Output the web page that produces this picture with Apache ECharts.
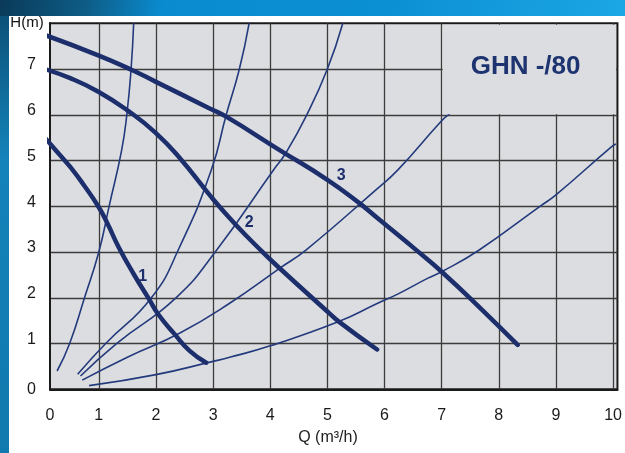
<!DOCTYPE html>
<html><head><meta charset="utf-8">
<script src="https://cdn.jsdelivr.net/npm/echarts@6/dist/echarts.min.js"></script>
<style>
html,body{margin:0;padding:0;}
#wrap{position:relative;width:625px;height:453px;overflow:hidden;background:linear-gradient(180deg,#0b4c72 0%,#1483b9 35%,#1079ae 100%);}
#band{position:absolute;left:0;top:0;width:625px;height:16px;background:linear-gradient(100deg,#0a3a58 0%,#0e5d87 14%,#0a8bcf 26%,#0c90d4 62%,#1ba6e5 100%);}
#panel{position:absolute;left:9px;top:16px;right:0;bottom:0;background:#fff;}
#chart{position:absolute;left:0;top:0;width:625px;height:453px;}
</style></head>
<body><div id="wrap"><div id="band"></div><div id="panel"></div><div id="chart"></div></div>
<script>
// Pump curves (thick) : Q (m3/h), H (m)
const pump1 = [[0,5.58],[0.25,5.22],[0.5,4.86],[0.74,4.46],[1.0,3.98],[1.16,3.6],[1.35,3.1],[1.61,2.52],[1.88,1.97],[2.04,1.64],[2.33,1.2],[2.59,0.84],[2.88,0.58]];
const pump2 = [[0,7.02],[0.5,6.8],[1.0,6.5],[1.52,6.08],[2.0,5.6],[2.42,5.05],[2.97,4.2],[3.38,3.62],[3.85,3.02],[4.17,2.64],[5.0,1.7],[5.2,1.48],[5.87,0.87]];
const pump3 = [[0,7.77],[0.99,7.3],[1.58,6.98],[2.0,6.72],[2.94,6.14],[3.23,5.96],[4.15,5.24],[5.0,4.58],[5.56,4.07],[5.87,3.75],[6.35,3.26],[6.52,3.08],[7.0,2.57],[7.68,1.77],[8.33,0.97]];
// System curves (thin)
const sysA = [[0.27,0.4],[0.49,1.0],[0.75,2.0],[1.0,3.0],[1.18,4.0],[1.4,5.23],[1.49,6.0],[1.565,7.0],[1.61,8.0]];
const sysB = [[0.63,0.33],[1.12,1.0],[1.92,2.0],[2.41,3.1],[2.97,4.8],[3.23,6.0],[3.46,7.0],[3.63,8.0]];
const sysC = [[0.68,0.29],[1.31,1.0],[2.35,2.0],[3.06,3.04],[4.06,4.8],[4.27,5.16],[4.64,6.0],[5.0,7.0],[5.27,8.0]];
const sysD = [[0.71,0.2],[1.5,0.7],[2.42,1.23],[3.29,1.88],[4.17,2.65],[4.63,3.05],[5.85,4.36],[6.23,4.79],[7.0,5.87],[7.14,6.02]];
const sysE = [[0.83,0.08],[2.0,0.32],[3.0,0.61],[3.29,0.7],[4.0,0.95],[5.2,1.48],[5.88,1.88],[6.23,2.08],[6.76,2.43],[7.0,2.57],[7.65,3.04],[8.72,4.0],[9.0,4.25],[9.97,5.3],[10.05,5.36]];
// Curve labels
const curveLabels = [{name:'1', value:[1.77,2.46]},{name:'2', value:[3.63,3.65]},{name:'3', value:[5.24,4.67]}];
const chartTitle = 'GHN -/80';
const yName = 'H(m)';
const xName = 'Q (m\u00B3/h)';
const xTickLabels = ['0','1','2','3','4','5','6','7','8','9','10'];
const yTickLabels = ['0','1','2','3','4','5','6','7'];

const X_MIN = 0.146, X_MAX = 10.076;
const NAVY = '#1c2e6c';
const FONT = 'Liberation Sans';

const chart = echarts.init(document.getElementById('chart'), null, {renderer:'canvas'});
function thick(d){return {type:'line', data:d, showSymbol:false, symbol:'none', smooth:0.5, lineStyle:{color:NAVY, width:4.5, cap:'round', join:'round'}, z:3, silent:true};}
function thin(d){return {type:'line', data:d, showSymbol:false, symbol:'none', smooth:0.5, lineStyle:{color:'#233a7c', width:1.6}, z:2, silent:true};}

chart.setOption({
  animation:false,
  grid:{left:50, top:23.3, right:3.3, bottom:63.7, show:true, backgroundColor:'#dcdde0', borderColor:'#1a1a1a', borderWidth:2},
  xAxis:{type:'value', min:X_MIN, max:X_MAX, splitNumber:10,
    axisLine:{show:true, onZero:false, lineStyle:{color:'#1a1a1a', width:2}},
    axisTick:{show:false},
    splitLine:{show:true, showMinLine:false, showMaxLine:false, lineStyle:{color:'#3c3c3c', width:1.3}},
    axisLabel:{margin:18, fontSize:16, color:'#1a1a1a', fontFamily:FONT,
      formatter:function(v){ if(v < 0.5) return xTickLabels[0]; const r=Math.round(v); return Math.abs(v-r)<1e-6 ? (xTickLabels[r]||'') : ''; }}
  },
  yAxis:{type:'value', min:0, max:8, interval:1,
    axisLine:{show:true, onZero:false, lineStyle:{color:'#1a1a1a', width:2}},
    axisTick:{show:false},
    splitLine:{show:true, showMinLine:false, showMaxLine:false, lineStyle:{color:'#3c3c3c', width:1.3}},
    axisLabel:{margin:14, fontSize:16, color:'#1a1a1a', fontFamily:FONT,
      formatter:function(v){ if(v===0) return '{z|'+yTickLabels[0]+'}'; return yTickLabels[v]!==undefined ? '{n|'+yTickLabels[v]+'}' : ''; },
      rich:{ n:{fontSize:16, color:'#1a1a1a', fontFamily:FONT, padding:[0,0,8,0]}, z:{fontSize:16, color:'#1a1a1a', fontFamily:FONT} }
    }
  },
  series:[
    thin(sysA), thin(sysB), thin(sysC), thin(sysD), thin(sysE),
    thick(pump1), thick(pump2), thick(pump3),
    {type:'scatter', data:curveLabels, symbolSize:1, itemStyle:{color:'transparent', opacity:1}, silent:true, z:5,
     label:{show:true, position:'inside', formatter:'{b}', color:NAVY, opacity:1, fontWeight:'bold', fontSize:16, fontFamily:FONT, textBorderWidth:0}}
  ]
});

const a = chart.convertToPixel({gridIndex:0},[7,8]);
const b = chart.convertToPixel({gridIndex:0},[X_MAX,6]);
chart.setOption({graphic:[
  {type:'rect', z:10, shape:{x:a[0]+1, y:a[1]+1.5, width:b[0]-a[0]-2.5, height:b[1]-a[1]-2}, style:{fill:'#dcdde0'}},
  {type:'text', z:11, x:(a[0]+b[0])/2 - 4, y:67, style:{text:chartTitle, font:'bold 26px "Liberation Sans"', fill:'#1d3471', align:'center', verticalAlign:'middle'}},
  {type:'text', z:11, x:27, y:23, style:{text:yName, font:'15px "Liberation Sans"', fill:'#111', align:'center', verticalAlign:'middle'}},
  {type:'text', z:11, x:328, y:438, style:{text:xName, font:'16px "Liberation Sans"', fill:'#222', align:'center', verticalAlign:'middle'}}
]});
</script>
</body></html>
